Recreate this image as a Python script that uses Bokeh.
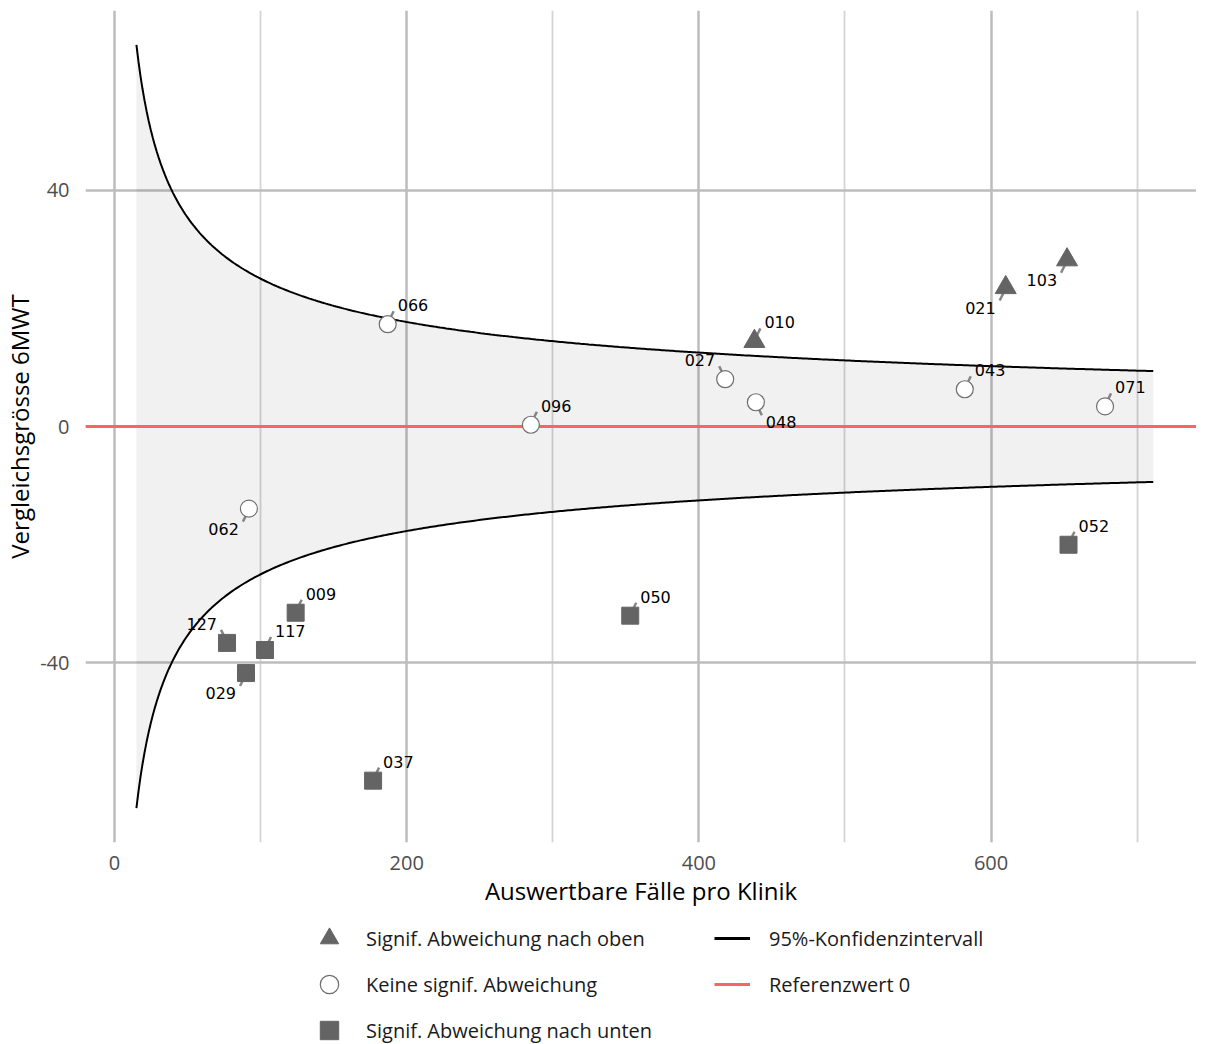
import numpy as np
from bokeh.plotting import figure
from bokeh.layouts import column
from bokeh.models import ColumnDataSource, FixedTicker, Legend, LegendItem, Range1d
from bokeh.embed import file_html
from bokeh.resources import INLINE
from bokeh.core.properties import value

# ---------------- data ----------------
kliniken = ["066", "096", "027", "048", "010", "021", "103", "043", "071",
            "062", "127", "117", "009", "029", "037", "050", "052"]
faelle = [187, 285, 418, 439, 438, 610, 652, 582, 678,
          92, 77, 103, 124, 90, 177, 353, 653]
werte = [17.3, 0.3, 8.0, 4.1, 14.4, 23.5, 28.2, 6.3, 3.4,
         -13.9, -36.6, -37.8, -31.5, -41.7, -59.9, -32.0, -20.0]
gruppe = ["keine", "keine", "keine", "keine", "oben", "oben", "oben", "keine", "keine",
          "keine", "unten", "unten", "unten", "unten", "unten", "unten", "unten"]
# label placement: ur = upper right, ul = upper left, ll = lower left, lr = lower right
label_pos = ["ur", "ur", "ul", "lr", "ur", "ll", "ll", "ur", "ur",
             "ll", "ul", "ur", "ur", "ll", "ur", "ur", "ur"]

REFERENZWERT = 0
KI_KONSTANTE = 250.0      # z * sd of the funnel
KI_N_MIN, KI_N_MAX = 15, 711

x_ticks = [0, 200, 400, 600]
x_tick_labels = ["0", "200", "400", "600"]
x_minor = [100, 300, 500, 700]
y_ticks = [-40, 0, 40]
y_tick_labels = ["-40", "0", "40"]

legend_labels = ["Signif. Abweichung nach oben", "Keine signif. Abweichung",
                 "Signif. Abweichung nach unten", "95%-Konfidenzintervall", "Referenzwert 0"]

# ---------------- layout ----------------
FW, FH = 1111, 832
X0, X1 = -19.85, 740.6
Y0, Y1 = -70.36, 70.36
px_x = FW / (X1 - X0)
px_y = FH / (Y1 - Y0)

FONT = "Open Sans"
GRAY = "#646464"
CIRC_LINE = "#6E6E6E"
RED = "#FA6464"

p = figure(frame_width=FW, frame_height=FH,
           x_range=Range1d(X0, X1), y_range=Range1d(Y0, Y1),
           output_backend="svg", toolbar_location=None,
           min_border_left=81, min_border_right=0, min_border_top=10, min_border_bottom=0,
           x_axis_label="Auswertbare Fälle pro Klinik",
           y_axis_label="Vergleichsgrösse 6MWT")
p.outline_line_color = None
p.background_fill_color = "white"

xt = FixedTicker(ticks=x_ticks, minor_ticks=x_minor)
yt = FixedTicker(ticks=y_ticks, minor_ticks=[])
p.xaxis.ticker = xt
p.yaxis.ticker = yt
p.xgrid.ticker = xt
p.ygrid.ticker = yt
p.xaxis.major_label_overrides = dict(zip(x_ticks, x_tick_labels))
p.yaxis.major_label_overrides = dict(zip(y_ticks, y_tick_labels))

p.xgrid.grid_line_color = "#BDBDBD"
p.xgrid.grid_line_width = 2.5
p.xgrid.minor_grid_line_color = "#D4D4D4"
p.xgrid.minor_grid_line_width = 1.8
p.ygrid.grid_line_color = "#BDBDBD"
p.ygrid.grid_line_width = 2.5

for ax in (p.xaxis, p.yaxis):
    ax.axis_line_color = None
    ax.major_tick_line_color = None
    ax.minor_tick_line_color = None
    ax.major_label_text_font = FONT
    ax.major_label_text_font_size = "20px"
    ax.major_label_text_color = "#4D4D4D"
    ax.axis_label_text_font = FONT
    ax.axis_label_text_font_size = "24px"
    ax.axis_label_text_font_style = "normal"
    ax.axis_label_text_color = "#000000"

p.xaxis.major_label_standoff = 7
p.xaxis.axis_label_standoff = 1
p.yaxis.major_label_standoff = 10
p.yaxis.axis_label_standoff = 1

# ---------------- funnel ----------------
n = np.linspace(KI_N_MIN, KI_N_MAX, 500)
ki_src = ColumnDataSource(dict(n=n,
                               oben=REFERENZWERT + KI_KONSTANTE / np.sqrt(n),
                               unten=REFERENZWERT - KI_KONSTANTE / np.sqrt(n)))
ref_src = ColumnDataSource(dict(x=[X0, X1], y=[REFERENZWERT, REFERENZWERT]))

p.varea(x="n", y1="unten", y2="oben", source=ki_src, fill_color="#000000", fill_alpha=0.055)
p.line("n", "oben", source=ki_src, line_color="#000000", line_width=2)
p.line("n", "unten", source=ki_src, line_color="#000000", line_width=2)
p.line("x", "y", source=ref_src, line_color=RED, line_width=3)

# ---------------- labels & leaders ----------------
seg_off = {"ur": ((2, -5), (6, -13)), "ul": ((-2, -5), (-6, -13)),
           "ll": ((-2, 5), (-6, 13)), "lr": ((2, 5), (6, 13))}
txt_off = {"ur": (10, -19, "left"), "ul": (-10, -19, "right"),
           "ll": (-10, 20, "right"), "lr": (10, 20, "left")}

sx0, sy0, sx1, sy1, tx, ty, ta = [], [], [], [], [], [], []
for xv, yv, pos in zip(faelle, werte, label_pos):
    (a, b), (c, d) = seg_off[pos]
    sx0.append(xv + a / px_x); sy0.append(yv - b / px_y)
    sx1.append(xv + c / px_x); sy1.append(yv - d / px_y)
    dx, dy, al = txt_off[pos]
    tx.append(xv + dx / px_x); ty.append(yv - dy / px_y); ta.append(al)

p.segment(sx0, sy0, sx1, sy1, line_color="#858585", line_width=2.5)

lab_src = ColumnDataSource(dict(x=tx, y=ty, t=kliniken, a=ta))
p.text(x="x", y="y", text="t", text_align="a", source=lab_src,
       text_baseline="middle", text_font=value("DejaVu Sans"),
       text_font_size="16px", text_color="#000000")

# ---------------- points ----------------
def sub(g):
    idx = [i for i, gg in enumerate(gruppe) if gg == g]
    return ColumnDataSource(dict(x=[faelle[i] for i in idx], y=[werte[i] for i in idx]))

src_oben, src_keine, src_unten = sub("oben"), sub("keine"), sub("unten")
sty_tri = dict(marker="triangle", fill_color=GRAY, line_color=GRAY, line_width=1)
sty_cir = dict(marker="circle", fill_color="white", line_color=CIRC_LINE, line_width=1.2)
sty_sq = dict(marker="square", fill_color=GRAY, line_color=GRAY, line_width=1)

p.scatter("x", "y", source=src_oben, size=21, **sty_tri)
p.scatter("x", "y", source=src_keine, size=17, **sty_cir)
p.scatter("x", "y", source=src_unten, size=17, **sty_sq)

# ---------------- legend (separate strip below the plot) ----------------
LH = 134
lf = figure(width=1192, height=LH, x_range=Range1d(10000, 10001), y_range=Range1d(10000, 10001),
            output_backend="svg", toolbar_location=None,
            x_axis_type=None, y_axis_type=None, min_border=0)
lf.outline_line_color = None
lf.xgrid.visible = False
lf.ygrid.visible = False

# same data, far outside this strip's ranges -> only the legend glyphs show
l_tri = lf.scatter("x", "y", source=src_oben, size=21, **sty_tri)
l_cir = lf.scatter("x", "y", source=src_keine, size=17, **sty_cir)
l_sq = lf.scatter("x", "y", source=src_unten, size=17, **sty_sq)
l_ki = lf.line("n", "oben", source=ki_src, line_color="#000000", line_width=3)
l_ref = lf.line("x", "y", source=ref_src, line_color=RED, line_width=3)

ROW = 46
TOP = 6
common = dict(orientation="vertical", spacing=0, padding=0, margin=0,
              label_text_font=FONT, label_text_font_size="20px",
              label_text_color="#1A1A1A", background_fill_alpha=0,
              border_line_color=None, glyph_height=ROW, label_height=ROW)

leg1 = Legend(items=[LegendItem(label=legend_labels[0], renderers=[l_tri]),
                     LegendItem(label=legend_labels[1], renderers=[l_cir]),
                     LegendItem(label=legend_labels[2], renderers=[l_sq])],
              location=(221, LH - TOP - 3 * ROW), glyph_width=46, label_standoff=14, **common)
leg2 = Legend(items=[LegendItem(label=legend_labels[3], renderers=[l_ki]),
                     LegendItem(label=legend_labels[4], renderers=[l_ref])],
              location=(629, LH - TOP - 2 * ROW), glyph_width=36, label_standoff=19, **common)
lf.add_layout(leg1)
lf.add_layout(leg2)

open("out.html", "w").write(file_html(column(p, lf), INLINE))
